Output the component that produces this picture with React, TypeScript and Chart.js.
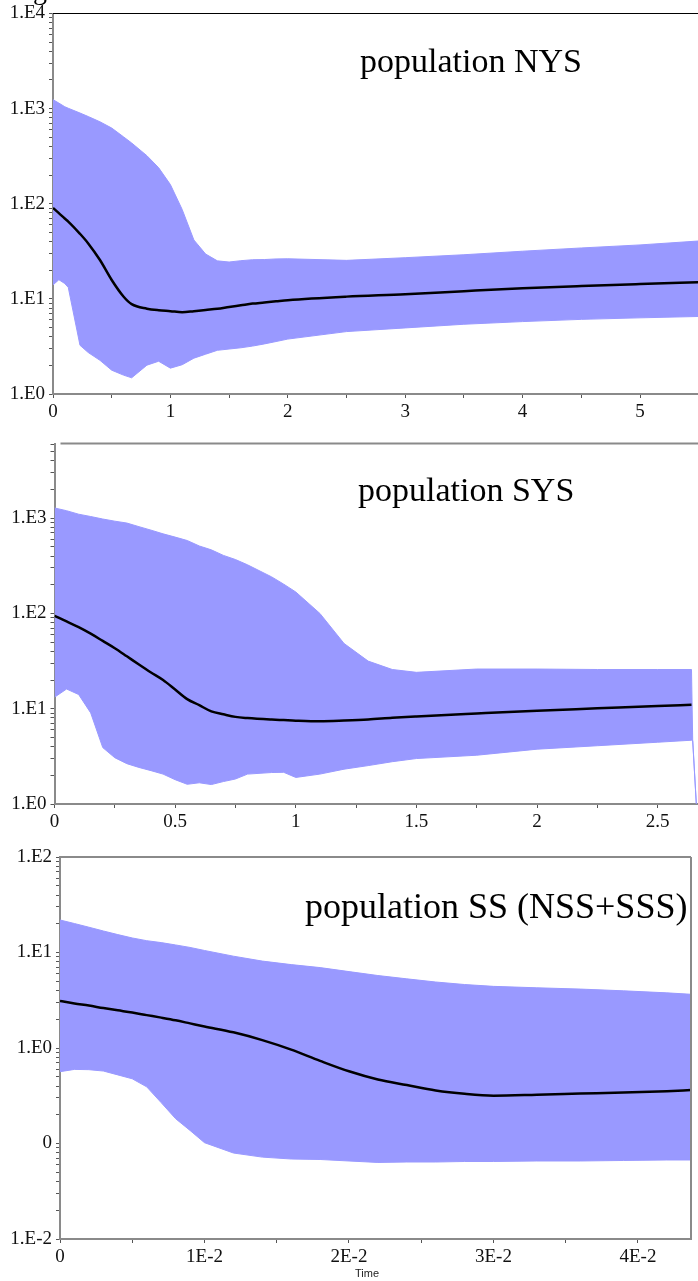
import React, { useEffect, useRef } from 'react';
import { Chart, registerables } from 'chart.js';

Chart.register(...registerables);

// ---------- Panel 1: population NYS ----------
const NYS_TIME = [0, 0.05, 0.1, 0.13, 0.23, 0.3, 0.4, 0.5, 0.6, 0.67, 0.8, 0.9, 1.0, 1.1, 1.2, 1.3, 1.4, 1.5, 1.6, 1.7, 1.8, 1.9, 2.0, 2.5, 3.0, 3.5, 4.0, 4.5, 5.0, 5.5];
const NYS_UPPER = [1243, 1143, 1048, 1009, 899, 826, 727, 625, 506, 435, 320, 239, 159, 87.2, 41.6, 29.6, 25.1, 24.4, 25.2, 25.8, 25.9, 26.3, 26.4, 25.4, 27.1, 29.1, 31.7, 34.3, 36.9, 40.6];
const NYS_MEAN = [90.4, 79.6, 69.9, 65.0, 48.3, 38.3, 25.6, 15.8, 10.6, 8.8, 7.89, 7.59, 7.43, 7.25, 7.43, 7.65, 7.87, 8.22, 8.56, 8.92, 9.16, 9.43, 9.7, 10.56, 11.19, 12.05, 12.92, 13.65, 14.33, 15.0];
const NYS_LOWER = [14.0, 15.9, 14.5, 13.2, 3.25, 2.73, 2.26, 1.78, 1.58, 1.48, 2.01, 2.21, 1.87, 2.03, 2.38, 2.62, 2.88, 2.97, 3.06, 3.19, 3.36, 3.56, 3.78, 4.53, 4.95, 5.41, 5.77, 6.09, 6.32, 6.53];
const NYS_X_TICKS = [0, 0.5, 1, 1.5, 2, 2.5, 3, 3.5, 4, 4.5, 5];
const NYS_X_LABELS = ['0', '', '1', '', '2', '', '3', '', '4', '', '5'];
const NYS_Y_MAJOR = [1, 10, 100, 1000, 10000];
const NYS_Y_LABELS = ['1.E0', '1.E1', '1.E2', '1.E3', '1.E4'];

// ---------- Panel 2: population SYS ----------
const SYS_TIME = [0, 0.05, 0.1, 0.15, 0.2, 0.25, 0.3, 0.35, 0.4, 0.45, 0.5, 0.55, 0.6, 0.65, 0.7, 0.75, 0.8, 0.9, 0.95, 1.0, 1.1, 1.2, 1.3, 1.4, 1.5, 1.75, 2.0, 2.25, 2.5, 2.64, 2.645, 2.66];
const SYS_UPPER = [1281, 1198, 1101, 1041, 980, 930, 889, 815, 749, 685, 633, 583, 511, 465, 407, 368, 324, 242, 203, 168, 100, 48.4, 31.6, 25.8, 24.1, 26.1, 26.1, 25.8, 25.8, 25.8, 4.7, 1.02];
const SYS_MEAN = [94.5, 82.4, 71.7, 61.3, 51.5, 43.2, 35.5, 29.1, 24.0, 20.0, 15.9, 12.6, 10.9, 9.38, 8.74, 8.21, 7.98, 7.7, 7.6, 7.5, 7.39, 7.51, 7.7, 8.04, 8.31, 8.92, 9.54, 10.1, 10.7, 11.0, null, null];
const SYS_LOWER = [13.2, 16.1, 14.1, 9.04, 3.91, 3.06, 2.65, 2.42, 2.24, 2.06, 1.8, 1.61, 1.67, 1.6, 1.72, 1.83, 2.06, 2.14, 2.15, 1.9, 2.06, 2.32, 2.53, 2.78, 3.0, 3.25, 3.76, 4.09, 4.45, 4.67, 4.6, 1.0];
const SYS_X_TICKS = [0, 0.25, 0.5, 0.75, 1, 1.25, 1.5, 1.75, 2, 2.25, 2.5];
const SYS_X_LABELS = ['0', '', '0.5', '', '1', '', '1.5', '', '2', '', '2.5'];
const SYS_Y_MAJOR = [1, 10, 100, 1000];
const SYS_Y_LABELS = ['1.E0', '1.E1', '1.E2', '1.E3'];

// ---------- Panel 3: population SS (NSS+SSS) ----------
const SS_TIME = [0, 0.001, 0.002, 0.003, 0.004, 0.005, 0.006, 0.007, 0.008, 0.009, 0.01, 0.012, 0.014, 0.016, 0.018, 0.02, 0.022, 0.024, 0.026, 0.028, 0.03, 0.033, 0.036, 0.039, 0.042, 0.0437];
const SS_UPPER = [21.9, 20.1, 18.4, 16.8, 15.4, 14.2, 13.3, 12.7, 12.0, 11.3, 10.5, 9.15, 8.13, 7.47, 6.95, 6.31, 5.74, 5.3, 4.91, 4.62, 4.42, 4.27, 4.14, 3.97, 3.78, 3.65];
const SS_MEAN = [3.11, 2.93, 2.78, 2.62, 2.48, 2.35, 2.21, 2.08, 1.95, 1.81, 1.68, 1.46, 1.21, 0.962, 0.733, 0.57, 0.468, 0.409, 0.359, 0.331, 0.317, 0.324, 0.333, 0.342, 0.353, 0.363];
const SS_LOWER = [0.565, 0.597, 0.593, 0.574, 0.523, 0.476, 0.392, 0.268, 0.182, 0.137, 0.102, 0.0795, 0.072, 0.0688, 0.068, 0.0656, 0.0633, 0.064, 0.064, 0.0648, 0.0648, 0.0656, 0.0656, 0.0664, 0.0672, 0.0672];
const SS_X_TICKS = [0, 0.005, 0.01, 0.015, 0.02, 0.025, 0.03, 0.035, 0.04];
const SS_X_LABELS = ['0', '', '1E-2', '', '2E-2', '', '3E-2', '', '4E-2'];
const SS_Y_MAJOR = [0.01, 0.1, 1, 10, 100];
const SS_Y_LABELS = ['1.E-2', '0', '1.E0', '1.E1', '1.E2'];

const BAND = 'rgb(153,153,255)';
const SERIF = "'Liberation Serif', 'Times New Roman', serif";
const AXIS_GRAY = '#8a8a8a';

function logTicks(min: number, max: number) {
  const out: number[] = [];
  for (let d = Math.floor(Math.log10(min)); d <= Math.ceil(Math.log10(max)); d++) {
    for (let k = 1; k <= 9; k++) {
      const v = k * Math.pow(10, d);
      if (v >= min * 0.9999 && v <= max * 1.0001) out.push(v);
    }
  }
  return out;
}

function findLabel(values: number[], labels: string[], v: number) {
  for (let i = 0; i < values.length; i++) {
    if (Math.abs(values[i] - v) <= Math.abs(values[i]) * 1e-6 + 1e-12) return labels[i];
  }
  return '';
}

const framePlugin = {
  id: 'frame',
  afterDraw(chart: any, _args: any, opts: any) {
    const { ctx, chartArea: a } = chart;
    ctx.save();
    (opts.lines || []).forEach((l: any) => {
      ctx.strokeStyle = l.color;
      ctx.lineWidth = l.width;
      ctx.beginPath();
      if (l.side === 'top') {
        ctx.moveTo(a.left + (l.startOffset || 0), a.top);
        ctx.lineTo(a.right, a.top);
      } else if (l.side === 'right') {
        ctx.moveTo(a.right, a.top);
        ctx.lineTo(a.right, a.bottom);
      }
      ctx.stroke();
    });
    ctx.restore();
  },
};

type PanelSpec = {
  xs: number[];
  upper: number[];
  mean: (number | null)[];
  lower: number[];
  xMax: number;
  xTicks: number[];
  xLabels: string[];
  yMin: number;
  yMax: number;
  yMajor: number[];
  yLabels: string[];
  yAxisWidth: number;
  xAxisHeight: number;
  padTop: number;
  padRight: number;
  lines: any[];
};

function makeChart(canvas: HTMLCanvasElement, p: PanelSpec) {
  const tickFont = { family: SERIF, size: 19, lineHeight: 1 };
  return new Chart(canvas, {
    type: 'line',
    data: {
      datasets: [
        {
          label: 'upper',
          data: p.xs.map((x, i) => ({ x, y: p.upper[i] })),
          borderColor: BAND,
          backgroundColor: BAND,
          borderWidth: 1,
          pointRadius: 0,
          fill: false,
          order: 2,
        },
        {
          label: 'lower',
          data: p.xs.map((x, i) => ({ x, y: p.lower[i] })),
          borderColor: BAND,
          backgroundColor: BAND,
          borderWidth: 1,
          pointRadius: 0,
          fill: '-1',
          order: 1,
        },
        {
          label: 'mean',
          data: p.xs.map((x, i) => ({ x, y: p.mean[i] })),
          borderColor: '#000',
          borderWidth: 2.5,
          pointRadius: 0,
          fill: false,
          cubicInterpolationMode: 'monotone',
          order: 0,
        },
      ],
    } as any,
    options: {
      animation: false,
      responsive: false,
      maintainAspectRatio: false,
      events: [],
      layout: { padding: { top: p.padTop, right: p.padRight, left: 0, bottom: 0 } },
      plugins: {
        legend: { display: false },
        tooltip: { enabled: false },
        frame: { lines: p.lines },
      } as any,
      scales: {
        x: {
          type: 'linear',
          min: 0,
          max: p.xMax,
          afterBuildTicks: (s: any) => {
            s.ticks = p.xTicks.map((v) => ({ value: v }));
          },
          afterFit: (s: any) => {
            s.height = p.xAxisHeight;
          },
          ticks: {
            autoSkip: false,
            maxRotation: 0,
            minRotation: 0,
            padding: 5,
            color: '#111',
            font: tickFont,
            callback: (v: any) => findLabel(p.xTicks, p.xLabels, Number(v)),
          },
          grid: { drawOnChartArea: false, drawTicks: true, tickLength: 4, color: '#555', lineWidth: 1 },
          border: { display: true, color: AXIS_GRAY, width: 2 },
        },
        y: {
          type: 'logarithmic',
          min: p.yMin,
          max: p.yMax,
          afterBuildTicks: (s: any) => {
            s.ticks = logTicks(p.yMin, p.yMax).map((v) => ({ value: v }));
          },
          afterFit: (s: any) => {
            s.width = p.yAxisWidth;
          },
          ticks: {
            autoSkip: false,
            padding: 4,
            color: '#111',
            font: tickFont,
            callback: (v: any) => findLabel(p.yMajor, p.yLabels, Number(v)),
          },
          grid: { drawOnChartArea: false, drawTicks: true, tickLength: 4, color: '#555', lineWidth: 1 },
          border: { display: true, color: AXIS_GRAY, width: 2 },
        },
      },
    } as any,
    plugins: [framePlugin as any],
  });
}

const PANELS: { top: number; height: number; spec: PanelSpec }[] = [
  {
    top: 0,
    height: 430,
    spec: {
      xs: NYS_TIME, upper: NYS_UPPER, mean: NYS_MEAN, lower: NYS_LOWER,
      xMax: 5.494, xTicks: NYS_X_TICKS, xLabels: NYS_X_LABELS,
      yMin: 1, yMax: 10000, yMajor: NYS_Y_MAJOR, yLabels: NYS_Y_LABELS,
      yAxisWidth: 53, xAxisHeight: 36, padTop: 11, padRight: 0,
      lines: [{ side: 'top', color: '#000', width: 1.2 }],
    },
  },
  {
    top: 430,
    height: 410,
    spec: {
      xs: SYS_TIME, upper: SYS_UPPER, mean: SYS_MEAN, lower: SYS_LOWER,
      xMax: 2.667, xTicks: SYS_X_TICKS, xLabels: SYS_X_LABELS,
      yMin: 1, yMax: 6080, yMajor: SYS_Y_MAJOR, yLabels: SYS_Y_LABELS,
      yAxisWidth: 54.5, xAxisHeight: 36, padTop: 12, padRight: 0,
      lines: [{ side: 'top', color: AXIS_GRAY, width: 2, startOffset: 6 }],
    },
  },
  {
    top: 840,
    height: 441,
    spec: {
      xs: SS_TIME, upper: SS_UPPER, mean: SS_MEAN, lower: SS_LOWER,
      xMax: 0.04367, xTicks: SS_X_TICKS, xLabels: SS_X_LABELS,
      yMin: 0.01, yMax: 100, yMajor: SS_Y_MAJOR, yLabels: SS_Y_LABELS,
      yAxisWidth: 60, xAxisHeight: 42, padTop: 17, padRight: 7,
      lines: [
        { side: 'top', color: AXIS_GRAY, width: 2 },
        { side: 'right', color: AXIS_GRAY, width: 2 },
      ],
    },
  },
];

const TITLES = [
  { text: 'population NYS', left: 360, top: 44, size: 34 },
  { text: 'population SYS', left: 358, top: 473, size: 34 },
  { text: 'population SS (NSS+SSS)', left: 305, top: 888, size: 36 },
];

export default function App() {
  const c0 = useRef<HTMLCanvasElement>(null);
  const c1 = useRef<HTMLCanvasElement>(null);
  const c2 = useRef<HTMLCanvasElement>(null);

  useEffect(() => {
    const refs = [c0, c1, c2];
    const charts = PANELS.map((p, i) => makeChart(refs[i].current as HTMLCanvasElement, p.spec));
    return () => charts.forEach((c) => c.destroy());
  }, []);

  const refs = [c0, c1, c2];
  return (
    <div
      style={{
        position: 'absolute',
        left: 0,
        top: 0,
        width: 698,
        height: 1281,
        overflow: 'hidden',
        background: '#fff',
      }}
    >
      {PANELS.map((p, i) => (
        <canvas
          key={i}
          ref={refs[i]}
          width={698}
          height={p.height}
          style={{ position: 'absolute', left: 0, top: p.top, width: 698, height: p.height }}
        />
      ))}
      {TITLES.map((t, i) => (
        <div
          key={i}
          style={{
            position: 'absolute',
            left: t.left,
            top: t.top,
            fontFamily: SERIF,
            fontSize: t.size,
            lineHeight: 1,
            color: '#000',
            whiteSpace: 'nowrap',
          }}
        >
          {t.text}
        </div>
      ))}
      <div
        style={{
          position: 'absolute',
          left: 33,
          top: -24,
          fontFamily: SERIF,
          fontSize: 28,
          lineHeight: 1,
          color: '#000',
        }}
      >
        g
      </div>
      <div
        style={{
          position: 'absolute',
          left: 367,
          top: 1268,
          transform: 'translateX(-50%)',
          fontFamily: "'Liberation Sans', Arial, sans-serif",
          fontSize: 11,
          lineHeight: 1,
          color: '#222',
          whiteSpace: 'nowrap',
        }}
      >
        Time
      </div>
    </div>
  );
}
